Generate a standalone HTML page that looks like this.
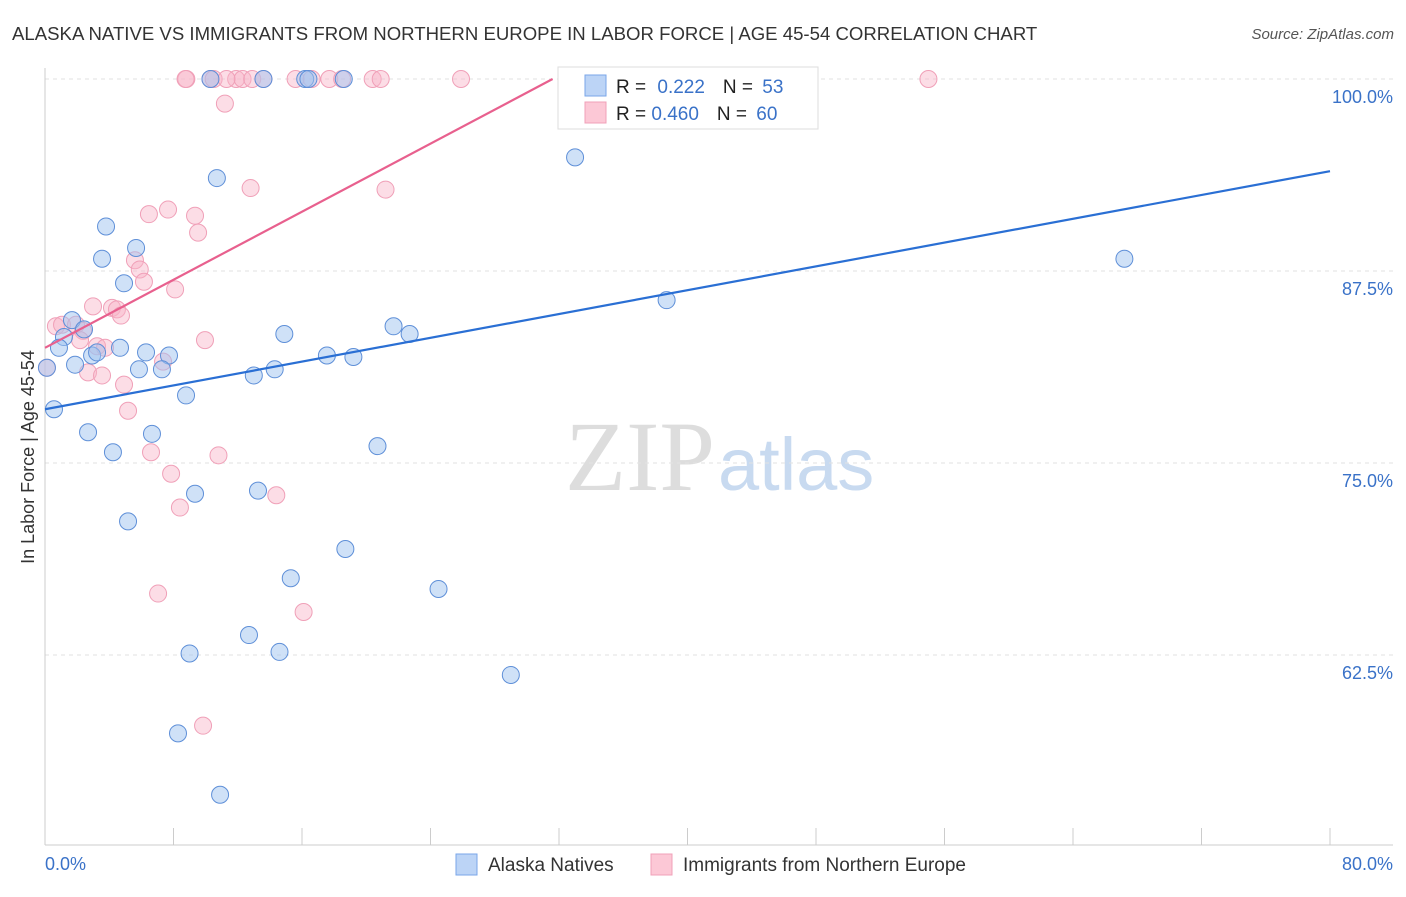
<!DOCTYPE html>
<html><head><meta charset="utf-8"><style>
body{margin:0;background:#fff;font-family:"Liberation Sans",sans-serif;}
svg text{font-family:"Liberation Sans",sans-serif;}
</style></head><body>
<svg id="c" width="1406" height="892">
<text x="12" y="40" font-size="18.6" fill="#333">ALASKA NATIVE VS IMMIGRANTS FROM NORTHERN EUROPE IN LABOR FORCE | AGE 45-54 CORRELATION CHART</text>
<text x="1394" y="39" font-size="15" fill="#555" text-anchor="end" font-style="italic">Source: ZipAtlas.com</text>
<text x="715" y="490" font-size="100" fill="#ddd" text-anchor="end" font-family="Liberation Serif" style="font-family:'Liberation Serif',serif">ZIP</text>
<text x="718" y="490" font-size="74" fill="#c8daf0">atlas</text>
<g id="grid"></g>
<g id="pts"></g>
<g id="lines"></g>
<text transform="translate(34,457) rotate(-90)" font-size="18" fill="#333" text-anchor="middle">In Labor Force | Age 45-54</text>
<text x="45" y="870" font-size="18" fill="#3a72c8">0.0%</text>
<text x="1393" y="870" font-size="18" fill="#3a72c8" text-anchor="end">80.0%</text>
<g>
<rect x="558" y="67" width="260" height="62" fill="#fff" stroke="#ddd"/>
<rect x="585" y="75" width="21" height="21" fill="#bcd4f6" stroke="#7aa6e8"/>
<rect x="585" y="102" width="21" height="21" fill="#fcc8d6" stroke="#f0a0b8"/>
<text x="616" y="93" font-size="19" fill="#222">R = <tspan fill="#3a72c8" dx="6">0.222</tspan><tspan dx="18" fill="#222">N = </tspan><tspan fill="#3a72c8" dx="4">53</tspan></text>
<text x="616" y="120" font-size="19" fill="#222">R = <tspan fill="#3a72c8">0.460</tspan><tspan dx="18" fill="#222">N = </tspan><tspan fill="#3a72c8" dx="4">60</tspan></text>
</g>
<g>
<rect x="456" y="854" width="21" height="21" fill="#bcd4f6" stroke="#7aa6e8"/>
<text x="488" y="871" font-size="19" fill="#333">Alaska Natives</text>
<rect x="651" y="854" width="21" height="21" fill="#fcc8d6" stroke="#f0a0b8"/>
<text x="683" y="871" font-size="19" fill="#333">Immigrants from Northern Europe</text>
</g>
</svg>
<script>
const yTicks=[100,87.5,75,62.5];
const yTickLabels=["100.0%","87.5%","75.0%","62.5%"];
const xTicks=[0,8,16,24,32,40,48,56,64,72,80];
const blueX=[10.3,13.6,16.2,16.4,18.6,32.8,47.2,10.7,33.0,3.8,5.67,3.55,4.92,67.2,38.7,1.68,1.18,0.87,2.43,2.93,3.24,1.87,0.12,4.67,6.29,7.72,5.85,7.28,8.78,0.56,2.68,6.66,4.23,14.9,13.0,14.3,17.55,19.2,21.7,22.7,20.7,9.34,13.26,5.17,18.7,15.3,24.5,12.7,9.0,14.6,29.0,8.28,10.9];
const blueY=[100,100,100,100,100,100,100,93.55,94.9,90.4,89.0,88.3,86.7,88.3,85.6,84.3,83.2,82.5,83.7,82.0,82.2,81.4,81.2,82.5,82.2,82.0,81.1,81.1,79.4,78.5,77.0,76.9,75.7,83.4,80.7,81.1,82.0,81.9,83.9,83.4,76.1,73.0,73.2,71.2,69.4,67.5,66.8,63.8,62.6,62.7,61.2,57.4,53.4];
const pinkX=[8.8,10.3,10.5,11.9,12.3,12.9,13.6,15.6,16.6,17.7,18.5,20.4,20.9,25.9,33.0,55.0,8.75,11.3,11.2,12.8,21.2,7.66,6.47,9.34,9.53,5.6,5.9,6.16,8.1,2.99,4.17,4.48,4.73,0.68,1.06,1.93,2.37,2.18,3.24,3.74,9.96,7.35,0.12,2.68,3.55,4.92,5.17,6.6,10.8,7.85,8.4,14.4,7.04,16.1,9.84];
const pinkY=[100,100,100,100,100,100,100,100,100,100,100,100,100,100,100,100,100,100,98.4,92.9,92.8,91.5,91.2,91.1,90.0,88.2,87.6,86.8,86.3,85.2,85.1,85.0,84.6,83.9,84.0,84.0,83.6,83.0,82.6,82.5,83.0,81.6,81.2,80.9,80.7,80.1,78.4,75.7,75.5,74.3,72.1,72.9,66.5,65.3,57.9];
const blueLine=[[0,78.5],[80,94.0]];
const pinkLine=[[0,82.5],[31.6,100]];
const X=v=>45+v/80*1285, Y=v=>79+(100-v)*15.36;
const NS="http://www.w3.org/2000/svg";
function mk(t,a,p){const e=document.createElementNS(NS,t);for(const k in a)e.setAttribute(k,a[k]);p.appendChild(e);return e;}
const g=document.getElementById('grid');
yTicks.forEach((t,i)=>{
 const l=mk('line',{x1:45,x2:1393,y1:Y(t),y2:Y(t),stroke:'#e2e2e2','stroke-dasharray':'4,4'},g);
 
 
 const tx=mk('text',{x:1393,y:Y(t)+24,'font-size':18,fill:'#3a72c8','text-anchor':'end'},g);
 tx.textContent=yTickLabels[i];
 
 
});
const ax=mk('line',{x1:45,x2:1393,y1:845,y2:845,stroke:'#ccc'},g);


const ay=mk('line',{x1:45,x2:45,y1:68,y2:845,stroke:'#ccc'},g);


xTicks.forEach(t=>{const l=mk('line',{x1:X(t),x2:X(t),y1:828,y2:845,stroke:'#ccc'},g);
 
 });
const p=document.getElementById('pts');
pinkX.forEach((x,i)=>{const c=mk('circle',{cx:X(x),cy:Y(pinkY[i]),r:8.5,fill:'rgba(248,180,200,0.45)',stroke:'#f0a0b8','stroke-width':1},p);
 
 });
blueX.forEach((x,i)=>{const c=mk('circle',{cx:X(x),cy:Y(blueY[i]),r:8.5,fill:'rgba(160,196,240,0.5)',stroke:'#5e8fd8','stroke-width':1},p);
 
 });
const L=document.getElementById('lines');
const b=mk('line',{x1:X(blueLine[0][0]),y1:Y(blueLine[0][1]),x2:X(blueLine[1][0]),y2:Y(blueLine[1][1]),stroke:'#2a6fd4','stroke-width':2.2},L);


const pk=mk('line',{x1:X(pinkLine[0][0]),y1:Y(pinkLine[0][1]),x2:X(pinkLine[1][0]),y2:Y(pinkLine[1][1]),stroke:'#e8608e','stroke-width':2.2},L);


</script>
</body></html>
